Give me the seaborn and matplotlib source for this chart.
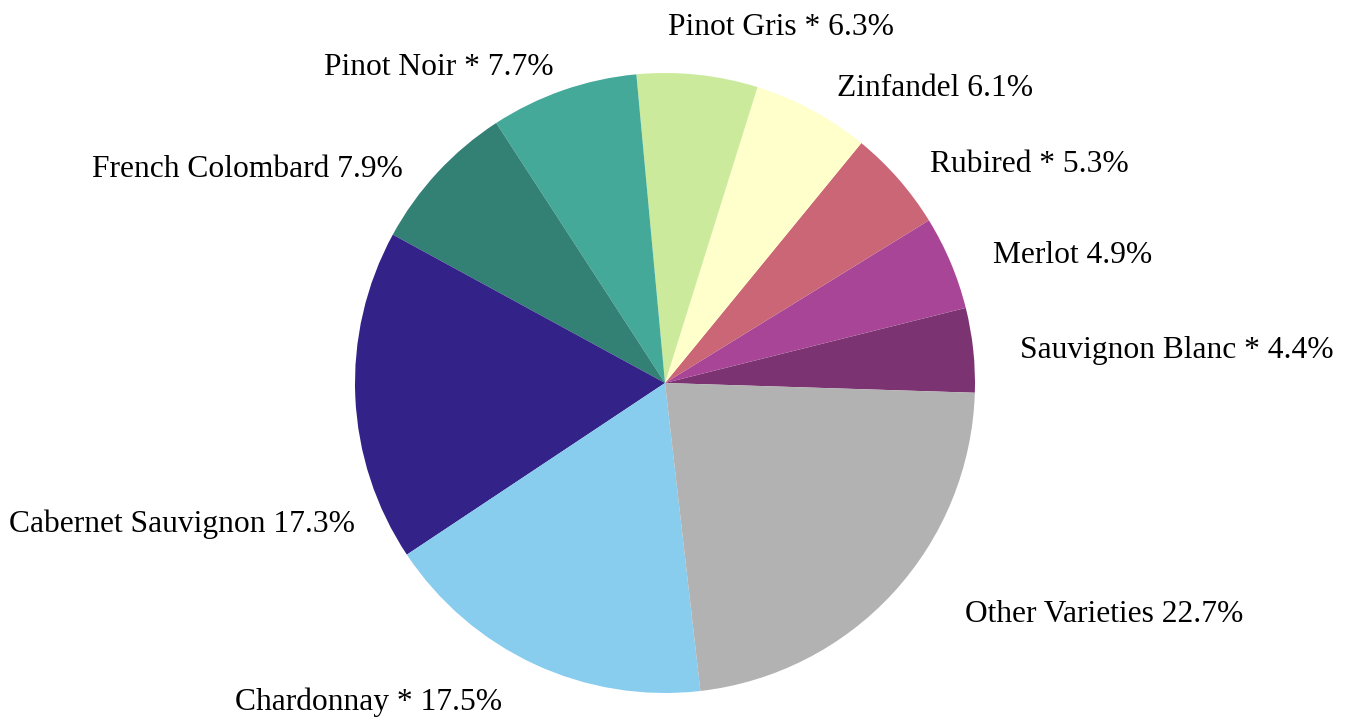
import numpy as np
import matplotlib
matplotlib.use("Agg")
import matplotlib.pyplot as plt
import seaborn as sns

varieties = ["Sauvignon Blanc *", "Merlot", "Rubired *", "Zinfandel", "Pinot Gris *",
             "Pinot Noir *", "French Colombard", "Cabernet Sauvignon", "Chardonnay *",
             "Other Varieties"]
shares = [4.4, 4.9, 5.3, 6.1, 6.3, 7.7, 7.9, 17.3, 17.5, 22.7]
colors = ["#7B3372", "#A84597", "#CA6675", "#FFFFCC", "#CCEA9C",
          "#45A999", "#338075", "#332288", "#88CCEE", "#B2B2B2"]

# label layout: text baseline anchor in polar form (angle in degrees, radius in pie radii)
label_angle = [4.0, 20.1, 38.5, 59.1, 89.5, 109.8, 141.8, 205.7, 243.5, 321.5]
label_radius = [1.148, 1.127, 1.093, 1.080, 1.123, 1.056, 1.075, 1.110, 1.179, 1.238]

sns.set_theme(style="white")
plt.rcParams["font.family"] = ["Liberation Serif", "DejaVu Serif"]

W, H = 1347, 717
fig = plt.figure(figsize=(W / 100, H / 100), dpi=100)
ax = fig.add_axes([0, 0, 1, 1])

labels = [f"{v} {s}%" for v, s in zip(varieties, shares)]
wedges, texts = ax.pie(shares, labels=labels, colors=colors, startangle=-1.8,
                       counterclock=True, labeldistance=1.1,
                       wedgeprops=dict(linewidth=0),
                       textprops=dict(fontsize=22.7, color="black"))

for t, a, r in zip(texts, label_angle, label_radius):
    ang = np.deg2rad(a)
    x, y = r * np.cos(ang), r * np.sin(ang)
    t.set_position((x, y))
    t.set_ha("left" if x >= 0 else "right")
    t.set_va("baseline")

cx, cy, R = 665, 383, 310
ax.set_xlim(-cx / R, (W - cx) / R)
ax.set_ylim(-(H - cy) / R, cy / R)
ax.set_aspect("auto")
ax.axis("off")

fig.savefig("out.png", dpi=100, facecolor="white")
